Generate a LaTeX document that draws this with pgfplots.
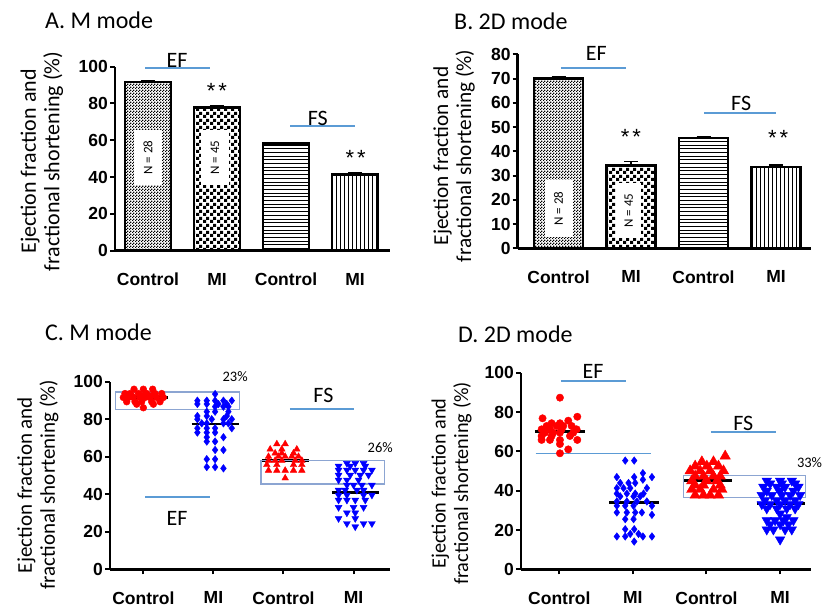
\documentclass[border=0pt]{standalone}
\usepackage{fontspec}
\setmainfont{Carlito}
\newfontfamily\arialf{Liberation Sans}
\usepackage{pgfplots}
\pgfplotsset{compat=1.18}
\usetikzlibrary{patterns}
\definecolor{annot}{RGB}{91,155,213}
\definecolor{boxc}{RGB}{140,165,210}
\definecolor{pred}{RGB}{255,0,0}
\definecolor{pblue}{RGB}{0,0,255}

\pgfdeclarepatternformonly{finecheck}{\pgfqpoint{0pt}{0pt}}{\pgfqpoint{3pt}{3pt}}{\pgfqpoint{3pt}{3pt}}{%
  \pgfpathrectangle{\pgfqpoint{0pt}{0pt}}{\pgfqpoint{1.5pt}{1.5pt}}%
  \pgfpathrectangle{\pgfqpoint{1.5pt}{1.5pt}}{\pgfqpoint{1.5pt}{1.5pt}}%
  \pgfusepath{fill}}
\pgfdeclarepatternformonly{bigcheck}{\pgfqpoint{0pt}{0pt}}{\pgfqpoint{7pt}{7pt}}{\pgfqpoint{7pt}{7pt}}{%
  \pgfpathrectangle{\pgfqpoint{0pt}{0pt}}{\pgfqpoint{3.5pt}{3.5pt}}%
  \pgfpathrectangle{\pgfqpoint{3.5pt}{3.5pt}}{\pgfqpoint{3.5pt}{3.5pt}}%
  \pgfusepath{fill}}
\pgfdeclarepatternformonly{hlines}{\pgfqpoint{0pt}{0pt}}{\pgfqpoint{100pt}{1pt}}{\pgfqpoint{100pt}{3.7pt}}{%
  \pgfsetlinewidth{0.8pt}%
  \pgfpathmoveto{\pgfqpoint{0pt}{0.5pt}}\pgfpathlineto{\pgfqpoint{100pt}{0.5pt}}\pgfusepath{stroke}}
\pgfdeclarepatternformonly{vlines}{\pgfqpoint{0pt}{0pt}}{\pgfqpoint{1pt}{100pt}}{\pgfqpoint{4pt}{100pt}}{%
  \pgfsetlinewidth{0.8pt}%
  \pgfpathmoveto{\pgfqpoint{0.5pt}{0pt}}\pgfpathlineto{\pgfqpoint{0.5pt}{100pt}}\pgfusepath{stroke}}

\tikzset{ann/.style={annot, line width=1.8pt}}
\newcommand{\stars}{{\arialf\fontsize{22}{22}\selectfont *\hspace{3pt}*}}
\pgfplotsset{
  panel/.style={
    scale only axis, axis lines=left, axis line style={-, line width=2.5pt},
    ymin=0, clip=false,
    xtick={0,1,2,3}, xticklabels={Control,MI,Control,MI},
    tick align=outside, major tick length=5pt,
    tick style={black, line width=2pt},
    ticklabel style={font=\arialf\bfseries\fontsize{17.5}{17.5}\selectfont},
    /pgf/number format/assume math mode=true,
    xticklabel style={anchor=north, yshift=-14pt},
    yticklabel style={anchor=east, inner sep=2pt},
  },
  barplot/.style={ybar, bar shift=0pt, draw=black, line width=2.5pt,
    error bars/y dir=plus, error bars/y explicit,
    error bars/error mark=|,
    error bars/error bar style={line width=1.5pt, solid},
    error bars/error mark options={line width=1.5pt, mark size=7pt, black}},
  meanline/.style={black, line width=2.8pt},
}

\begin{document}
\begin{tikzpicture}
\useasboundingbox (0pt,0pt) rectangle (822pt,608pt);

% titles
\node[anchor=base west, font=\fontsize{24}{24}\selectfont, inner sep=0pt] at (45pt,579.7pt) {A. M mode};
\node[anchor=base west, font=\fontsize{24}{24}\selectfont, inner sep=0pt] at (454pt,578pt) {B. 2D mode};
\node[anchor=base west, font=\fontsize{24}{24}\selectfont, inner sep=0pt] at (45pt,267.3pt) {C. M mode};
\node[anchor=base west, font=\fontsize{24}{24}\selectfont, inner sep=0pt] at (458pt,265.3pt) {D. 2D mode};

% y labels
\node[rotate=90, align=center, inner sep=0pt, font=\fontsize{22}{23.5}\selectfont] at (42pt,446.5pt) {Ejection fraction and\\fractional shortening (\%)};
\node[rotate=90, align=center, inner sep=0pt, font=\fontsize{21.3}{23}\selectfont] at (454pt,452pt) {Ejection fraction and\\fractional shortening (\%)};
\node[rotate=90, align=center, inner sep=0pt, font=\fontsize{21}{23}\selectfont] at (38pt,123pt) {Ejection fraction and\\fractional shortening (\%)};
\node[rotate=90, align=center, inner sep=0pt, font=\fontsize{20.3}{22.5}\selectfont] at (451.5pt,124.5pt) {Ejection fraction and\\fractional shortening (\%)};

% ---------------- Panel A
\begin{axis}[panel, at={(115pt,357.3pt)}, anchor=south west, width=275pt, height=184pt,
  xmin=-0.478, xmax=3.507, ymax=100, ytick={0,20,40,60,80,100}, xtick style={draw=none}]
\addplot[bar width=46pt, pattern=finecheck, barplot] coordinates {(0,91.8) +- (0,0.4)};
\addplot[bar width=46pt, pattern=bigcheck, barplot] coordinates {(1,77.8) +- (0,1.2)};
\addplot[bar width=46pt, pattern=hlines, barplot] coordinates {(2,58.3) +- (0,0.5)};
\addplot[bar width=46pt, pattern=vlines, barplot] coordinates {(3,41.5) +- (0,0.8)};
\node[fill=white, rotate=90, minimum width=55pt, minimum height=28pt, inner sep=0pt, font=\fontsize{13}{13}\selectfont] at (axis cs:0,50.6) {N = 28};
\node[fill=white, rotate=90, minimum width=55pt, minimum height=28pt, inner sep=0pt, font=\fontsize{13}{13}\selectfont] at (axis cs:0.97,50.6) {N = 45};
\draw[ann] (axis cs:-0.043,99.1) -- (axis cs:0.899,99.1);
\node[font=\fontsize{22}{22}\selectfont] at (axis cs:0.42,103.6) {EF};
\draw[ann] (axis cs:2.058,67.8) -- (axis cs:3.0,67.8);
\node[font=\fontsize{22}{22}\selectfont] at (axis cs:2.46,72.1) {FS};
\node[inner sep=0pt] at (axis cs:1,86.6) {\stars};
\node[inner sep=0pt] at (axis cs:3.01,50.2) {\stars};
\end{axis}

% ---------------- Panel B
\begin{axis}[panel, at={(517.7pt,359.7pt)}, anchor=south west, width=293.3pt, height=194pt,
  xmin=-0.563, xmax=3.483, ymax=80, ytick={0,10,...,80}, xtick style={draw=none}]
\addplot[bar width=49pt, pattern=finecheck, barplot] coordinates {(0,70.1) +- (0,0.8)};
\addplot[bar width=49pt, pattern=bigcheck, barplot] coordinates {(1,34.2) +- (0,1.5)};
\addplot[bar width=49pt, pattern=hlines, barplot] coordinates {(2,45.5) +- (0,0.6)};
\addplot[bar width=49pt, pattern=vlines, barplot] coordinates {(3,33.6) +- (0,0.7)};
\node[fill=white, rotate=90, minimum width=57pt, minimum height=28pt, inner sep=0pt, font=\fontsize{13}{13}\selectfont] at (axis cs:0,16.3) {N = 28};
\node[fill=white, rotate=90, minimum width=55pt, minimum height=25pt, inner sep=0pt, font=\fontsize{13}{13}\selectfont] at (axis cs:0.97,15.5) {N = 45};
\draw[ann] (axis cs:0.034,74.4) -- (axis cs:0.931,74.4);
\node[font=\fontsize{22}{22}\selectfont] at (axis cs:0.52,80.5) {EF};
\draw[ann] (axis cs:2.007,55.8) -- (axis cs:3.0,55.8);
\node[font=\fontsize{22}{22}\selectfont] at (axis cs:2.52,59.9) {FS};
\node[inner sep=0pt] at (axis cs:1,45.9) {\stars};
\node[inner sep=0pt] at (axis cs:3.03,45.5) {\stars};
\end{axis}

% ---------------- Panel C
\begin{axis}[panel, at={(110pt,38.7pt)}, anchor=south west, width=280pt, height=187.6pt,
  xmin=-0.476, xmax=3.52, ymax=100, ytick={0,20,40,60,80,100}]
\addplot[only marks, mark=*, mark size=3.4pt, mark options={draw=pred, fill=pred}] coordinates {
(-0.133,96) (0,96) (0.133,96)
(-0.262,93.7) (-0.19,93.7) (-0.071,93.7) (0.048,93.7) (0.167,93.7) (0.262,93.7)
(-0.17,92.6) (-0.02,92.6) (0.12,92.6)
(-0.286,91.6) (-0.214,91.6) (-0.143,91.6) (-0.048,91.6) (0.024,91.6) (0.095,91.6) (0.19,91.6) (0.286,91.6)
(-0.238,89.3) (-0.119,89.3) (-0.024,89.3) (0.119,89.3) (0.238,89.3)
(-0.095,88) (0.143,88)
(0,86.1)};
\addplot[only marks, mark=diamond*, mark size=3.8pt, mark options={draw=pblue, fill=pblue}] coordinates {
(1.024,93.4)
(0.771,89.9) (0.905,89.9) (1.024,89.9) (1.143,89.9) (1.262,89.9)
(0.771,88.1) (0.905,88.1) (1.071,88.1) (1.19,88.1)
(1.024,86.7) (1.143,86.7) (1.214,86.7)
(0.905,84) (1.024,84) (1.214,84)
(0.771,81.7) (0.905,81.7) (1.19,81.7)
(0.771,80) (0.976,80) (1.143,80) (1.262,80)
(0.833,77.8) (0.905,77.8) (1.143,77.8) (1.214,77.8)
(0.771,75.2) (0.905,75.2) (1.024,75.2) (1.262,75.2)
(0.771,72.9) (0.905,72.9) (1.024,72.9)
(0.905,70.4) (1.143,70.4)
(0.905,68.1) (1.024,68.1)
(1.024,63.6) (1.143,63.6)
(0.905,58.7) (1.024,58.7)
(0.905,54.5) (1.024,54.5) (1.143,53.8)};
\addplot[only marks, mark=triangle*, mark size=3.8pt, mark options={draw=pred, fill=pred}] coordinates {
(1.905,66.8) (2.024,66.8)
(1.81,64) (1.976,64) (2.19,64)
(1.881,61.9) (1.976,61.9) (2.143,61.9)
(1.786,60.1) (1.929,60.1) (2.024,60.1) (2.119,60.1) (2.214,60.1)
(1.786,58) (1.881,58) (1.976,58) (2.167,58) (2.262,58)
(1.762,55.7) (1.905,55.7) (2.143,55.7) (2.262,55.7)
(1.786,52.7) (1.905,52.7) (2.024,52.7) (2.143,52.7) (2.262,52.7)
(2.024,48.6)};
\addplot[only marks, mark=triangle*, mark size=4pt, mark options={draw=pblue, fill=pblue, rotate=180}] coordinates {
(2.905,56.5) (3.024,56.5) (3.143,56.5)
(2.786,55) (2.952,55) (3.167,55)
(2.786,52.9) (2.905,52.9) (3.024,52.9) (3.143,52.9) (3.262,52.9)
(2.786,50.2) (2.952,50.2) (3.095,50.2) (3.214,50.2)
(2.786,47.6) (2.905,47.6) (3.071,47.6)
(2.905,44.9) (3,44.9) (3.119,44.9) (3.262,44.9)
(2.786,42.2) (2.881,42.2) (3.048,42.2) (3.143,42.2)
(2.786,39.6) (2.905,39.6) (3.143,39.6) (3.262,39.6)
(2.786,36.9) (2.905,36.9) (3.024,36.9) (3.167,36.9)
(2.786,33) (3,33) (3.143,33)
(2.905,30.1) (3.024,30.1)
(2.786,27.1) (3.024,27.1)
(2.905,24.4) (3.143,24.4) (3.262,24.4)
(3.024,22.7)};
\addplot[meanline] coordinates {(-0.325,91.5) (0.345,91.5)};
\addplot[meanline] coordinates {(0.69,77.5) (1.36,77.5)};
\addplot[meanline] coordinates {(1.69,58) (2.36,58)};
\addplot[meanline] coordinates {(2.69,41) (3.36,41)};
\draw[boxc, line width=1.2pt] (axis cs:-0.40,94.5) rectangle (axis cs:1.37,85);
\draw[boxc, line width=1.2pt] (axis cs:1.68,58.1) rectangle (axis cs:3.44,45.5);
\draw[ann] (axis cs:0.024,38.7) -- (axis cs:0.953,38.7);
\node[font=\fontsize{22}{22}\selectfont] at (axis cs:0.48,27.3) {EF};
\draw[ann] (axis cs:2.09,85.3) -- (axis cs:3.0,85.3);
\node[font=\fontsize{22}{22}\selectfont] at (axis cs:2.57,92.9) {FS};
\node[font=\fontsize{14.5}{14.5}\selectfont] at (axis cs:1.31,102.5) {23\%};
\node[font=\fontsize{14.5}{14.5}\selectfont] at (axis cs:3.38,64.7) {26\%};
\end{axis}

% ---------------- Panel D
\begin{axis}[panel, at={(521pt,38.7pt)}, anchor=south west, width=290pt, height=196.6pt,
  xmin=-0.52, xmax=3.42, ymax=100, ytick={0,20,40,60,80,100}]
\addplot[only marks, mark=*, mark size=3.7pt, mark options={draw=pred, fill=pred}] coordinates {
(0.009,87.3)
(0.245,77.6) (-0.227,76.8) (0.122,75.6)
(-0.104,74.3) (0.009,74.3)
(-0.172,72.9) (-0.036,72.9) (0.054,72.9) (0.168,72.9)
(-0.24,71.2) (-0.127,71.2) (0.032,71.2) (0.236,71.2)
(-0.195,69.5) (-0.082,69.5) (0.009,69.5) (0.19,69.5)
(-0.24,67.8) (-0.104,67.8) (0.145,67.8)
(-0.24,65.8) (-0.127,65.8) (0.009,65.8) (0.245,65.8)
(0.009,63.7) (0.122,61) (0.009,59)};
\addplot[only marks, mark=diamond*, mark size=3.8pt, mark options={draw=pblue, fill=pblue}] coordinates {
(0.896,55.3) (1.018,55.3)
(1.136,48.9)
(0.782,46.9) (1.018,46.9) (1.259,46.9)
(1.136,45.6)
(0.828,43.9) (0.941,43.9) (1.032,43.9)
(0.782,41.3) (0.873,41.3) (0.964,41.3) (1.19,41.3)
(0.782,38.5) (0.918,38.5) (1.032,38.5) (1.145,38.5)
(0.828,37.1) (1.009,37.1) (1.1,37.1)
(0.782,34.5) (0.918,34.5) (1.054,34.5) (1.19,34.5)
(0.782,32.3) (0.896,32.3) (1.009,32.3) (1.259,32.3)
(0.782,28.9) (0.918,28.9) (1.032,28.9) (1.122,28.9)
(1.259,27.7)
(0.896,25.5) (1.009,25.5)
(0.896,20.4) (1.018,20.4)
(0.964,18) (1.077,18)
(0.782,16.7) (0.896,16.7) (1.136,16.7) (1.259,16.7)
(1.018,14.1)};
\addplot[only marks, mark=triangle*, mark size=6pt, mark options={draw=pred, fill=pred}] coordinates {
(2.254,57.6)
(1.937,54.7) (2.095,54.7)
(1.846,52.5) (2.005,52.5) (2.163,52.5)
(1.778,50.1) (1.914,50.1) (2.05,50.1) (2.231,50.1)
(1.846,47.4) (1.959,47.4) (2.095,47.4) (2.186,47.4)
(1.8,45) (2.005,45) (2.141,45)
(1.846,42.8) (1.959,42.8) (2.186,42.8)
(1.8,40.6) (1.914,40.6) (2.095,40.6) (2.209,40.6)
(1.846,37.7) (1.959,37.7) (2.05,37.7) (2.163,37.7)};
\addplot[only marks, mark=triangle*, mark size=5.5pt, mark options={draw=pblue, fill=pblue, rotate=180}] coordinates {
(2.819,45) (3,45) (3.159,45)
(2.864,43.6) (3.023,43.6) (3.204,43.6)
(2.773,41.9) (2.955,41.9) (3.068,41.9) (3.249,41.9)
(2.819,39.9) (3,39.9) (3.181,39.9)
(2.751,37.7) (2.887,37.7) (3.023,37.7) (3.136,37.7) (3.272,37.7)
(2.796,35.1) (2.955,35.1) (3.068,35.1) (3.204,35.1)
(2.751,33.1) (2.864,33.1) (3,33.1) (3.136,33.1) (3.249,33.1)
(2.819,30.9) (2.955,30.9) (3.091,30.9) (3.204,30.9)
(3,28.3) (3.09,26.5)
(2.819,24.9) (2.932,24.9) (3.045,24.9) (3.181,24.9)
(2.864,22.9) (3,22.9) (3.113,22.9)
(2.819,20.2) (2.909,20.2) (3.068,20.2) (3.159,20.2)
(3,15.1)};
\addplot[meanline] coordinates {(-0.33,70) (0.35,70)};
\addplot[meanline] coordinates {(0.68,34) (1.35,34)};
\addplot[meanline] coordinates {(1.68,45) (2.35,45)};
\addplot[meanline] coordinates {(2.68,33.3) (3.34,33.3)};
\draw[annot, line width=1.3pt] (axis cs:-0.32,59) -- (axis cs:1.25,59);
\draw[boxc, line width=1.2pt] (axis cs:1.69,47.6) rectangle (axis cs:3.35,36.6);
\draw[ann] (axis cs:0.023,95.9) -- (axis cs:0.907,95.9);
\node[font=\fontsize{22}{22}\selectfont] at (axis cs:0.46,100.4) {EF};
\draw[ann] (axis cs:2.06,70) -- (axis cs:2.95,70);
\node[font=\fontsize{22}{22}\selectfont] at (axis cs:2.5,74.4) {FS};
\node[font=\fontsize{14.5}{14.5}\selectfont] at (axis cs:3.40,54.1) {33\%};
\end{axis}
\end{tikzpicture}
\end{document}
